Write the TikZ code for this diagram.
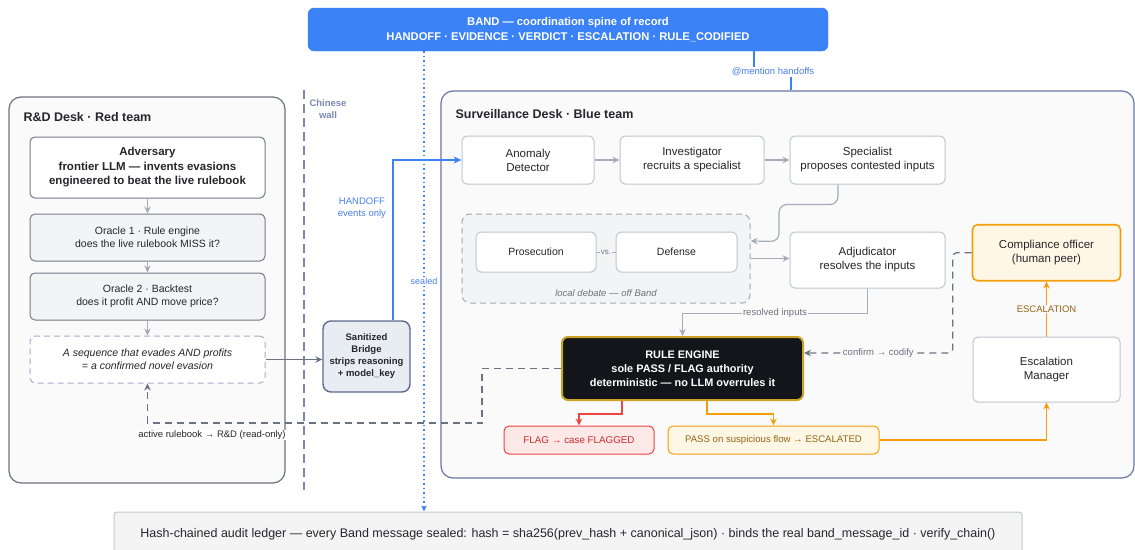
\documentclass[tikz,border=0pt]{standalone}
\usepackage{fontspec}
\setmainfont{Liberation Sans}
\usetikzlibrary{arrows.meta,positioning}

\definecolor{bandblue}{RGB}{59,130,246}
\definecolor{bandtext}{RGB}{70,128,232}
\definecolor{wallcol}{RGB}{125,137,180}
\definecolor{deskgray}{RGB}{110,114,124}
\definecolor{survline}{RGB}{104,117,166}
\definecolor{deskfill}{RGB}{250,250,251}
\definecolor{nodeline}{RGB}{192,197,207}
\definecolor{arrowgray}{RGB}{165,172,184}
\definecolor{dashgray}{RGB}{107,114,128}
\definecolor{textcol}{RGB}{38,38,44}
\definecolor{oraclefill}{RGB}{243,244,246}
\definecolor{oracleline}{RGB}{116,122,134}
\definecolor{evasionline}{RGB}{165,175,200}
\definecolor{bridgefill}{RGB}{232,236,243}
\definecolor{bridgeline}{RGB}{92,106,140}
\definecolor{debatefill}{RGB}{243,244,246}
\definecolor{debateline}{RGB}{165,170,178}
\definecolor{rulefill}{RGB}{20,21,26}
\definecolor{ruleline}{RGB}{201,162,39}
\definecolor{flagfill}{RGB}{253,232,232}
\definecolor{flagline}{RGB}{239,68,68}
\definecolor{flagtext}{RGB}{200,45,45}
\definecolor{passfill}{RGB}{255,247,230}
\definecolor{passline}{RGB}{245,158,11}
\definecolor{passtext}{RGB}{146,100,20}
\definecolor{ledgerfill}{RGB}{244,244,245}
\definecolor{ledgerline}{RGB}{195,199,207}
\definecolor{softtext}{RGB}{110,115,125}

\begin{document}
\begin{tikzpicture}[x=1pt, y=-1pt, node distance=15pt,
    desk/.style={rectangle, rounded corners=12pt, draw=deskgray, fill=deskfill, line width=1.2pt},
    desktitle/.style={anchor=west, text=textcol, font=\bfseries\fontsize{12.5}{15}\selectfont},
    card/.style={rectangle, rounded corners=5pt, draw=nodeline, fill=white, line width=1pt, align=center, text=textcol, inner sep=2pt, font=\fontsize{11.5}{14}\selectfont},
    adversarybox/.style={card, draw=oracleline, minimum width=235pt, minimum height=61pt, font=\bfseries\fontsize{11.5}{14.5}\selectfont},
    oracle/.style={card, draw=oracleline, fill=oraclefill, minimum width=235pt, minimum height=47pt, font=\fontsize{10.5}{13}\selectfont},
    evasionbox/.style={card, draw=evasionline, dash pattern=on 6pt off 4pt, minimum width=235pt, minimum height=47pt, font=\itshape\fontsize{10.5}{13}\selectfont},
    bridgebox/.style={card, rounded corners=8pt, draw=bridgeline, fill=bridgefill, line width=1.4pt, minimum width=87pt, minimum height=71pt, font=\bfseries\fontsize{9.5}{12}\selectfont},
    debatebox/.style={rectangle, rounded corners=8pt, draw=debateline, fill=debatefill, line width=1pt, dash pattern=on 6pt off 4pt, minimum width=288pt, minimum height=89pt},
    rulebox/.style={card, rounded corners=6pt, draw=ruleline, fill=rulefill, line width=2pt, text=white, minimum width=241pt, minimum height=63pt, font=\bfseries\fontsize{10.9}{14}\selectfont},
    flagbox/.style={card, draw=flagline, fill=flagfill, text=flagtext, minimum width=150pt, minimum height=28pt, font=\fontsize{9.8}{12}\selectfont},
    passbox/.style={card, draw=passline, fill=passfill, text=passtext, minimum width=211pt, minimum height=28pt, font=\fontsize{9.6}{12}\selectfont},
    bandbox/.style={rectangle, rounded corners=6pt, draw=bandblue, fill=bandblue, text=white, align=center, minimum width=520pt, minimum height=43pt, font=\bfseries\fontsize{11.2}{15}\selectfont},
    ledgerbox/.style={rectangle, rounded corners=3pt, draw=ledgerline, fill=ledgerfill, text=textcol, line width=1pt, minimum width=908pt, minimum height=44pt, font=\fontsize{12.5}{14}\selectfont},
    smalllabel/.style={inner sep=1pt, font=\fontsize{9.5}{11.5}\selectfont},
    flow/.style={draw=arrowgray, line width=1.2pt, -{Stealth[length=7pt, width=6.5pt]}},
    feedback/.style={draw=dashgray, line width=1.2pt, dash pattern=on 7pt off 5pt, -{Stealth[length=7pt, width=6.5pt]}},
    escflow/.style={draw=passline, line width=1.2pt, -{Stealth[length=7pt, width=6.5pt]}}
]
    \useasboundingbox (0,0) rectangle (1135,549);

    % Desks
    \node[desk, minimum width=276pt, minimum height=386pt] (rnd) at (147,290) {};
    \node[desktitle] (rndtitle) at (20,117) {R\&D Desk · Red team};
    \node[desk, draw=survline, minimum width=693pt, minimum height=387pt] (surv) at (787.5,284.5) {};
    \node[desktitle] (survtitle) at (452,114) {Surveillance Desk · Blue team};

    % Band and ledger
    \node[bandbox] (band) at (568,29.5) {\raisebox{-1.5pt}{BAND — coordination spine of record}\\\raisebox{-1.5pt}{HANDOFF · EVIDENCE · VERDICT · ESCALATION · RULE\_CODIFIED}};
    \node[ledgerbox] (ledger) at (568,534) {Hash-chained audit ledger — every Band message sealed: hash = sha256(prev\_hash + canonical\_json) · binds the real band\_message\_id · verify\_chain()};

    % Chinese wall
    \draw[wallcol, line width=1.2pt, dash pattern=on 9pt off 5pt] (304,90) -- (304,490);
    \node[text=wallcol, align=center, font=\bfseries\fontsize{9.5}{11.5}\selectfont] (walllbl) at (328,109) {Chinese\\wall};

    % Red team nodes
    \node[adversarybox] (adversary) at (147.5,167.5) {Adversary\\frontier LLM — invents evasions\\engineered to beat the live rulebook};
    \node[oracle, below=15pt of adversary] (oracleone) {Oracle 1 · Rule engine\\does the live rulebook MISS it?};
    \node[oracle, below=11pt of oracleone] (oracletwo) {Oracle 2 · Backtest\\does it profit AND move price?};
    \node[evasionbox, below=15pt of oracletwo] (evasion) {A sequence that evades AND profits\\= a confirmed novel evasion};
    \node[bridgebox] (bridge) at (366.5,356.5) {Sanitized\\Bridge\\strips reasoning\\+ model\_key};

    % Blue team nodes
    \node[card, minimum width=132pt, minimum height=48pt] (anomaly) at (528,160) {Anomaly\\Detector};
    \node[card, minimum width=144pt, minimum height=48pt, right=25pt of anomaly] (investigator) {Investigator\\recruits a specialist};
    \node[card, minimum width=155pt, minimum height=48pt, right=25pt of investigator] (specialist) {Specialist\\proposes contested inputs};

    \node[debatebox] (debate) at (606,258.5) {};
    \node[card, minimum width=120pt, minimum height=40pt, font=\fontsize{10.5}{13}\selectfont] (prosecution) at (536,252) {Prosecution};
    \node[card, minimum width=121pt, minimum height=40pt, font=\fontsize{10.5}{13}\selectfont, right=19pt of prosecution] (defense) {Defense};
    \node[text=softtext, font=\itshape\fontsize{9.5}{11.5}\selectfont] (debatelbl) at (606,293) {local debate — off Band};

    \node[card, minimum width=155pt, minimum height=56pt, below=47pt of specialist] (adjudicator) {Adjudicator\\resolves the inputs};
    \node[rulebox] (rule) at (682.5,368.5) {RULE ENGINE\\sole PASS / FLAG authority\\deterministic — no LLM overrules it};
    \node[flagbox] (flag) at (579,440) {FLAG → case FLAGGED};
    \node[passbox, right=13pt of flag] (pass) {PASS on suspicious flow → ESCALATED};

    \node[card, minimum width=147pt, minimum height=65pt] (escalation) at (1046.5,369.5) {Escalation\\Manager};
    \node[card, draw=passline, fill=passfill, line width=1.6pt, minimum width=148pt, minimum height=56pt, above=55pt of escalation] (compliance) {Compliance officer\\(human peer)};

    % Coordinates
    \coordinate (sealx) at (424,0);
    \coordinate (mentionlbl) at (773,72);
    \coordinate (rulebookturn) at (482,423);

    % Arrows
    \draw[flow] (adversary) -- (oracleone);
    \draw[flow] (oracleone) -- (oracletwo);
    \draw[flow] (oracletwo) -- (evasion);
    \draw[draw=dashgray, line width=1.2pt, -{Stealth[length=7pt, width=6.5pt]}] (evasion.east) -- (evasion.east -| bridge.west);
    \draw[draw=bandblue, line width=1.4pt, -{Stealth[length=8pt, width=7pt]}] ([xshift=26.5pt]bridge.north) |- node[pos=0.35, left=3pt, text=bandtext, align=center, font=\fontsize{9.5}{11.5}\selectfont] {HANDOFF\\events only} (anomaly.west);

    \draw[flow] (anomaly) -- (investigator);
    \draw[flow] (investigator) -- (specialist);
    \draw[flow, rounded corners=8pt] ([xshift=-29.5pt]specialist.south) -- ++(0,20) -| ++(-59,37) -- ([yshift=17.5pt]debate.east);
    \draw[draw=arrowgray, line width=1pt] (prosecution) -- node[smalllabel, fill=debatefill, text=softtext, font=\fontsize{8}{10}\selectfont] {vs.} (defense);
    \draw[flow] (debate.east) -- (debate.east -| adjudicator.west);
    \draw[flow] (adjudicator.south) -- ++(0,25) -| node[pos=0.25, smalllabel, fill=deskfill, text=softtext] {resolved inputs} (rule.north);

    \draw[draw=flagline, line width=1.2pt, -{Stealth[length=7pt, width=6.5pt]}] ([xshift=-60.5pt]rule.south) -- ++(0,13) -| (flag.north);
    \draw[escflow] ([xshift=24.5pt]rule.south) -- ++(0,13) -| (pass.north);
    \draw[escflow] (pass.east) -| (escalation.south);
    \draw[escflow] (escalation.north) -- node[smalllabel, fill=deskfill, text=passtext] {ESCALATION} (compliance.south);

    \draw[feedback, rounded corners=4pt] (compliance.west) -- ++(-19,0) |- node[pos=0.75, smalllabel, fill=deskfill, text=dashgray] {confirm → codify} ([yshift=15.5pt]rule.east);
    \draw[feedback] (rule.west) -| (rulebookturn) -| (evasion.south);

    \draw[draw=bandblue, line width=1.4pt, dash pattern=on 1.5pt off 3pt, -{Stealth[length=6pt, width=5.5pt]}] (band.south -| sealx) -- node[smalllabel, fill=white, text=bandtext, font=\fontsize{9}{11}\selectfont] {sealed} (ledger.north -| sealx);
    \draw[draw=bandblue, line width=1.2pt] ([xshift=186pt]band.south) |- (mentionlbl) -| ([xshift=3.5pt]surv.north);

    % Labels
    \node[smalllabel, fill=white, text=bandtext] at (mentionlbl) {@mention handoffs};
    \node[smalllabel, fill=white, text=textcol] (rulebooklbl) at (212,435) {active rulebook → R\&D (read-only)};
\end{tikzpicture}
\end{document}
